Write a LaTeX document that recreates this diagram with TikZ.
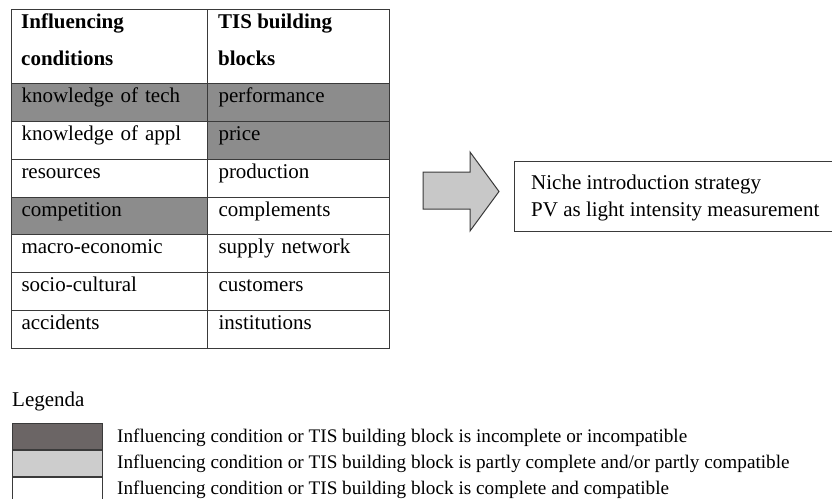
\documentclass[tikz,border=0pt]{standalone}
\usepackage{fontspec}
\setmainfont{Liberation Serif}
\definecolor{tabdark}{HTML}{8C8C8C}
\definecolor{legdark}{HTML}{6B6565}
\definecolor{leglight}{HTML}{CDCDCD}
\definecolor{arrowgray}{HTML}{C8C8C8}
\definecolor{linegray}{HTML}{3A3A3A}

\begin{document}
\begin{tikzpicture}[x=1pt,y=-1pt,font=\fontsize{21}{25}\selectfont,
cell/.style={draw=linegray,line width=1pt,anchor=north west,inner xsep=10pt,inner ysep=0pt,
  minimum height=37.86pt,text height=8pt,text depth=8pt,align=left},
lcell/.style={cell,text width=176pt},
rcell/.style={cell,text width=162pt},
head/.style={font=\fontsize{21}{37}\selectfont\bfseries,align=left,anchor=base west,inner sep=0pt},
legbox/.style={draw=linegray,line width=1pt,anchor=north west,minimum width=90pt,minimum height=26pt,inner sep=0pt},
legtext/.style={anchor=base west,inner sep=0pt,font=\fontsize{19.2}{23}\selectfont}]
\useasboundingbox (0,0) rectangle (832,498);

% table head
\node[lcell,minimum height=74pt] (h1) at (11,9) {};
\node[rcell,minimum height=74pt] (h2) at (207,9) {};
\node[head] (h1t) at ([xshift=10pt,yshift=-56pt]h1.north west) {Influencing\\conditions};
\node[head] (h2t) at ([xshift=11pt,yshift=-56pt]h2.north west) {TIS building\\blocks};

% table rows
\foreach \i/\a/\b/\fa/\fb in {1/knowledge of tech/performance/tabdark/tabdark,
  2/knowledge of appl/price/white/tabdark,
  3/resources/production/white/white,
  4/competition/complements/tabdark/white,
  5/macro-economic/supply network/white/white,
  6/socio-cultural/customers/white/white,
  7/accidents/institutions/white/white}
{
  \node[lcell,fill=\fa] (l\i) at (11,{83+37.86*(\i-1)}) {\a};
  \node[rcell,fill=\fb,inner xsep=11pt,text width=160pt] (r\i) at (207,{83+37.86*(\i-1)}) {\b};
}

% arrow
\draw[linegray,line width=1pt,fill=arrowgray] (423,172) -- (470,172) -- (470,152) -- (499,191.5)
  -- (470,231) -- (470,209) -- (423,209) -- cycle;

\node[draw=linegray,line width=1pt,anchor=north west,minimum width=330pt,minimum height=70pt] (strat) at (514,161) {};
\node[anchor=west,align=left,inner sep=0pt,font=\fontsize{21}{27}\selectfont] (stratt) at ([xshift=17pt,yshift=-1pt]strat.west)
  {Niche introduction strategy\\PV as light intensity measurement};

% legend
\node[anchor=base west,inner sep=0pt] (leg) at (12,406) {Legenda};
\node[legbox,fill=legdark] (b1) at (12,423) {};
\node[legbox,fill=leglight] (b2) at (b1.south west) {};
\node[legbox,fill=white] (b3) at (b2.south west) {};
\node[legtext] (t1) at ([xshift=14pt,yshift=8pt]b1.south east) {Influencing condition or TIS building block is incomplete or incompatible};
\node[legtext] (t2) at ([xshift=14pt,yshift=9pt]b2.south east) {Influencing condition or TIS building block is partly complete and/or partly compatible};
\node[legtext] (t3) at ([xshift=14pt,yshift=10pt]b3.south east) {Influencing condition or TIS building block is complete and compatible};
\end{tikzpicture}
\end{document}
